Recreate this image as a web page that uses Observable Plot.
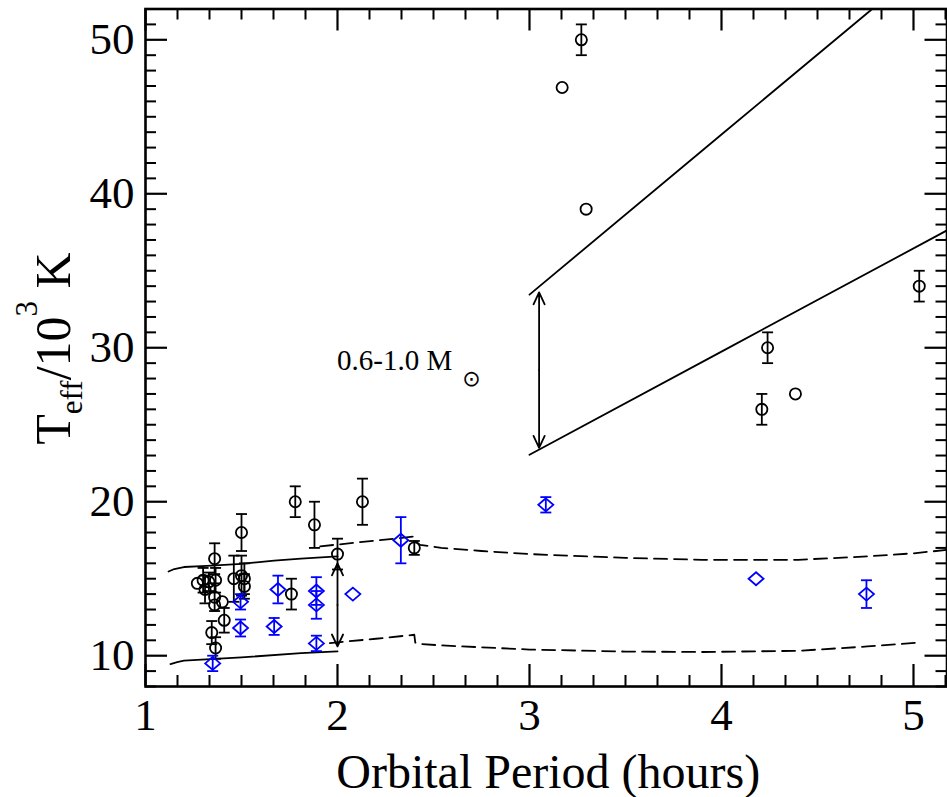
<!DOCTYPE html>
<html>
<head>
<meta charset="utf-8">
<script src="https://cdn.jsdelivr.net/npm/d3@7"></script>
<script src="https://cdn.jsdelivr.net/npm/@observablehq/plot@0.6"></script>
<style>
  html, body { margin: 0; padding: 0; background: #fff; }
  #chart svg { display: block; }
</style>
</head>
<body>
<div id="chart"></div>
<script>
// ---- Observed systems: black open circles (period in hours, Teff in 10^3 K, error; 0 = no bar)
const circP = [1.27, 1.30, 1.31, 1.33, 1.36, 1.365, 1.36, 1.36, 1.40, 1.41, 1.345, 1.365, 1.46, 1.50, 1.50, 1.515, 1.515, 1.76, 1.78, 1.88, 2.00, 2.13, 2.40, 3.17, 3.27, 3.295, 4.21, 4.24, 4.385, 5.03];
const circT = [14.7, 14.9, 14.3, 14.8, 16.3, 14.9, 13.8, 13.3, 13.5, 12.3, 11.5, 10.5, 15.0, 18.0, 15.2, 15.0, 14.5, 14.0, 20.0, 18.5, 16.6, 20.0, 17.0, 46.9, 50.0, 39.0, 26.0, 30.0, 27.0, 34.0];
const circE = [0, 0.8, 0.9, 0.6, 1.0, 0.8, 0.9, 0, 0, 0.8, 0.75, 0.7, 1.5, 1.2, 1.3, 1.0, 0.8, 1.0, 1.0, 1.5, 1.0, 1.5, 0.45, 0, 1.0, 0, 1.0, 1.0, 0, 1.0];

// ---- Observed systems: blue open diamonds
const diaP = [1.35, 1.495, 1.495, 1.67, 1.69, 1.89, 1.89, 1.89, 2.08, 2.33, 3.085, 4.18, 4.755];
const diaT = [9.5, 13.5, 11.8, 11.9, 14.3, 14.2, 13.3, 10.8, 14.0, 17.5, 19.8, 15.0, 14.0];
const diaE = [0.5, 0.5, 0.55, 0.55, 0.9, 0.9, 0.9, 0.5, 0, 1.5, 0.5, 0, 0.9];

// ---- Model curves (0.6-1.0 Msun)
const upSolidP = [1.12, 1.15, 1.2, 1.32, 1.5, 1.67, 1.81, 2.0];
const upSolidT = [15.47, 15.63, 15.76, 15.84, 15.97, 16.17, 16.3, 16.45];
const loSolidP = [1.13, 1.165, 1.2, 1.5, 1.81, 2.0];
const loSolidT = [9.46, 9.59, 9.68, 9.89, 10.17, 10.28];
const upDashP = [1.91, 2.1, 2.3, 2.40, 2.405, 2.43, 2.54, 2.75, 3.0, 3.5, 3.9, 4.4, 4.76, 5.0, 5.18];
const upDashT = [17.1, 17.35, 17.6, 17.75, 17.45, 17.2, 17.0, 16.8, 16.6, 16.35, 16.23, 16.23, 16.45, 16.65, 16.88];
const loDashP = [1.96, 2.2, 2.4, 2.405, 2.43, 2.54, 3.0, 3.5, 3.9, 4.4, 4.76, 5.04];
const loDashT = [10.82, 11.1, 11.36, 10.85, 10.76, 10.67, 10.4, 10.27, 10.24, 10.32, 10.6, 10.86];
const hiUpP = [3.0, 4.0, 4.785];
const hiUpT = [33.45, 43.85, 52.0];
const hiLoP = [3.0, 4.0, 5.18];
const hiLoT = [23.05, 29.75, 37.66];

// ---- Double-headed range arrows
const arrowP = [2.0, 3.05];
const arrowLo = [10.6, 23.5];
const arrowHi = [16.0, 33.6];

// ---- Annotation and axis text
const annotText = "0.6-1.0 M";
const annotSym = "\u2299";
const annotP = [1.998, 2.698];
const annotT = [29.16, 27.99];
const xLabel = "Orbital Period (hours)";
const xMajor = [1, 2, 3, 4, 5];
const yMajor = [10, 20, 30, 40, 50];

// ---- Layout
const W = 947, H = 797;
const mL = 145, mR = 0.5, mT = 8.5, mB = 111;
const xDom = [1, 5.1745];
const yDom = [8, 52];
const pxX = (W - mL - mR) / (xDom[1] - xDom[0]);
const pxY = (H - mT - mB) / (yDom[1] - yDom[0]);

const xMinor = d3.range(6, Math.floor(xDom[1] * 6) + 1).map(k => k / 6).filter(v => Math.abs(v - Math.round(v)) > 1e-6);
const yMinor = d3.range(yDom[0], yDom[1] + 1).filter(v => v % 10 !== 0);

const zip = (P, T) => P.map((p, i) => ({p, t: T[i]}));
const circles = circP.map((p, i) => ({p, t: circT[i], e: circE[i]}));
const diamonds = diaP.map((p, i) => ({p, t: diaT[i], e: diaE[i]}));
const circErr = circles.filter(d => d.e > 0);
const diaErr = diamonds.filter(d => d.e > 0);
const arrowSegs = arrowP.flatMap((p, i) => {
  const mid = (arrowLo[i] + arrowHi[i]) / 2;
  return [{p, a: mid, b: arrowLo[i]}, {p, a: mid, b: arrowHi[i]}];
});

const capSym = {draw(ctx) { ctx.moveTo(-5.5, 0); ctx.lineTo(5.5, 0); }};
const diaSym = {draw(ctx) { ctx.moveTo(0, -6.5); ctx.lineTo(7.5, 0); ctx.lineTo(0, 6.5); ctx.lineTo(-7.5, 0); ctx.closePath(); }};

const BLUE = "#0000ff";
const lw = 1.8;

function ticksX(vals, len, sw) {
  return [
    Plot.ruleX(vals, {x: d => d, y1: yDom[0], y2: yDom[0] + len / pxY, stroke: "black", strokeWidth: sw}),
    Plot.ruleX(vals, {x: d => d, y1: yDom[1] - len / pxY, y2: yDom[1], stroke: "black", strokeWidth: sw})
  ];
}
function ticksY(vals, len, sw) {
  return [
    Plot.ruleY(vals, {y: d => d, x1: xDom[0], x2: xDom[0] + len / pxX, stroke: "black", strokeWidth: sw}),
    Plot.ruleY(vals, {y: d => d, x1: xDom[1] - len / pxX, x2: xDom[1], stroke: "black", strokeWidth: sw})
  ];
}

const chart = Plot.plot({
  width: W, height: H,
  marginLeft: mL, marginRight: mR, marginTop: mT, marginBottom: mB,
  x: {domain: xDom},
  y: {domain: yDom},
  style: {fontFamily: "'Liberation Serif', 'Times New Roman', serif", fontSize: "45px", color: "black", background: "white"},
  marks: [
    // model curves
    Plot.line(zip(upSolidP, upSolidT), {x: "p", y: "t", stroke: "black", strokeWidth: lw}),
    Plot.line(zip(loSolidP, loSolidT), {x: "p", y: "t", stroke: "black", strokeWidth: lw}),
    Plot.line(zip(upDashP, upDashT), {x: "p", y: "t", stroke: "black", strokeWidth: lw, strokeDasharray: "13,7", clip: true}),
    Plot.line(zip(loDashP, loDashT), {x: "p", y: "t", stroke: "black", strokeWidth: lw, strokeDasharray: "13,7", clip: true}),
    Plot.line(zip(hiUpP, hiUpT), {x: "p", y: "t", stroke: "black", strokeWidth: lw, clip: true}),
    Plot.line(zip(hiLoP, hiLoT), {x: "p", y: "t", stroke: "black", strokeWidth: lw, clip: true}),
    // arrows
    Plot.arrow(arrowSegs, {x1: "p", y1: "a", x2: "p", y2: "b", stroke: "black", strokeWidth: lw, headLength: 11, headAngle: 50}),
    // error bars: circles
    Plot.ruleX(circErr, {x: "p", y1: d => d.t - d.e, y2: d => d.t + d.e, stroke: "black", strokeWidth: lw}),
    Plot.dot(circErr, {x: "p", y: d => d.t + d.e, symbol: capSym, stroke: "black", strokeWidth: lw}),
    Plot.dot(circErr, {x: "p", y: d => d.t - d.e, symbol: capSym, stroke: "black", strokeWidth: lw}),
    // error bars: diamonds
    Plot.ruleX(diaErr, {x: "p", y1: d => d.t - d.e, y2: d => d.t + d.e, stroke: BLUE, strokeWidth: lw}),
    Plot.dot(diaErr, {x: "p", y: d => d.t + d.e, symbol: capSym, stroke: BLUE, strokeWidth: lw}),
    Plot.dot(diaErr, {x: "p", y: d => d.t - d.e, symbol: capSym, stroke: BLUE, strokeWidth: lw}),
    // markers
    Plot.dot(circles, {x: "p", y: "t", r: 5.6, stroke: "black", strokeWidth: lw, fill: "none"}),
    Plot.dot(diamonds, {x: "p", y: "t", symbol: diaSym, stroke: BLUE, strokeWidth: lw, fill: "none"}),
    // annotation
    Plot.text([annotText], {x: () => annotP[0], y: () => annotT[0], text: d => d, textAnchor: "start", fontSize: 29}),
    Plot.text([annotSym], {x: () => annotP[1], y: () => annotT[1], text: d => d, textAnchor: "middle", fontSize: 22, fontFamily: "DejaVu Sans"}),
    // ticks (inward, all four sides)
    ...ticksX(xMajor, 22, 2.2),
    ...ticksX(xMinor, 11, 2),
    ...ticksY(yMajor, 22, 2.2),
    ...ticksY(yMinor, 11, 2),
    // tick labels
    Plot.axisX(xMajor, {anchor: "bottom", tickSize: 0, tickPadding: 12, label: null, tickFormat: d => String(d)}),
    Plot.axisY(yMajor, {anchor: "left", tickSize: 0, tickPadding: 11, label: null, tickFormat: d => String(d)}),
    // x axis title
    Plot.text([xLabel], {frameAnchor: "bottom", text: d => d, lineAnchor: "top", dy: 67, dx: 2, fontSize: 48}),
    Plot.frame({stroke: "black", strokeWidth: 2.6})
  ]
});

document.getElementById("chart").appendChild(chart);

// y axis title with subscript / superscript
const t = d3.select(chart).append("text")
  .attr("transform", "translate(70,348.5) rotate(-90)")
  .attr("text-anchor", "middle")
  .attr("fill", "black")
  .style("font-family", "'Liberation Serif', 'Times New Roman', serif")
  .style("font-size", "50px");
t.append("tspan").text("T");
t.append("tspan").attr("dy", 12).style("font-size", "31px").text("eff");
t.append("tspan").attr("dy", -12).text("/10");
t.append("tspan").attr("dy", -33).style("font-size", "31px").text("3");
t.append("tspan").attr("dy", 33).text(" K");
</script>
</body>
</html>
